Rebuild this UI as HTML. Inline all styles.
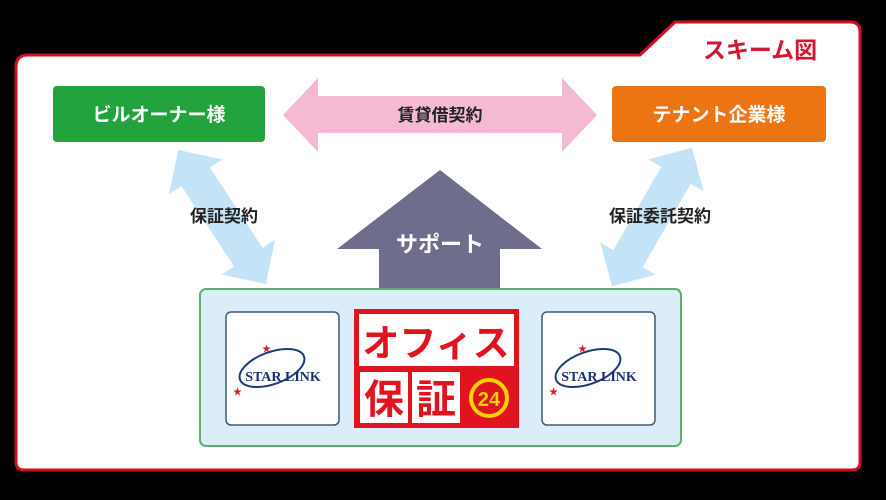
<!DOCTYPE html>
<html><head><meta charset="utf-8"><style>
html,body{margin:0;padding:0;background:#000;width:886px;height:500px;overflow:hidden}
svg{display:block}
text{font-family:"Liberation Sans","Noto Sans CJK JP",sans-serif;font-weight:bold}
text.serif{font-family:"Liberation Serif",serif}
</style></head><body>
<svg width="886" height="500" viewBox="0 0 886 500">
<rect width="886" height="500" fill="#000"/>
<path d="M28 55 L640 55 L675 22 L850 22 Q860 22 860 32 L860 462 Q860 470 852 470 L24 470 Q16 470 16 462 L16 67 Q16 55 28 55 Z" fill="#fff" stroke="#d0101e" stroke-width="3"/>
<text x="760" y="58" font-size="23" fill="#d01830" text-anchor="middle">スキーム図</text>
<rect x="53" y="86" width="212" height="56" rx="4" fill="#23a33e"/>
<text x="159" y="121" font-size="19" fill="#fff" text-anchor="middle">ビルオーナー様</text>
<rect x="612" y="86" width="214" height="56" rx="4" fill="#ec7412"/>
<text x="719" y="121" font-size="19" fill="#fff" text-anchor="middle">テナント企業様</text>
<polygon points="283,115 318,78 318,96 562,96 562,78 597,115 562,152 562,133 318,133 318,152" fill="#f4b9d3"/>
<text x="440" y="121" font-size="17" fill="#222" text-anchor="middle">賃貸借契約</text>
<g transform="translate(222,217) rotate(56.8)">
<polygon points="-80,0 -48,-32 -48,-17 48,-17 48,-32 80,0 48,32 48,17 -48,17 -48,32" fill="#c5e3f6"/>
</g>
<g transform="translate(652,217) rotate(120)">
<polygon points="-80,0 -48,-32 -48,-17 48,-17 48,-32 80,0 48,32 48,17 -48,17 -48,32" fill="#c5e3f6"/>
</g>
<text x="224" y="222" font-size="17" fill="#222" text-anchor="middle">保証契約</text>
<text x="660" y="222" font-size="17" fill="#222" text-anchor="middle">保証委託契約</text>
<polygon points="440,170 542,249 500,249 500,292 379,292 379,249 337,249" fill="#6e6d8c"/>
<text x="440" y="252" font-size="22" fill="#fff" text-anchor="middle">サポート</text>
<rect x="200" y="289" width="481" height="157" rx="6" fill="#dcedfa" stroke="#5eae74" stroke-width="2"/>
<g>
<rect x="226" y="312" width="113" height="113" rx="5" fill="#fff" stroke="#3f5a72" stroke-width="1.5"/>
<ellipse cx="272" cy="368" rx="34" ry="16" fill="none" stroke="#1a3c78" stroke-width="2" transform="rotate(-20 272 368)"/>
<text class="serif" x="283" y="381" font-size="14" fill="#1a3070" text-anchor="middle">STAR LINK</text>
<text x="262" y="352" font-size="9" fill="#d01c2c">★</text>
<text x="233" y="395" font-size="9" fill="#d01c2c">★</text>
</g>
<g>
<rect x="542" y="312" width="113" height="113" rx="5" fill="#fff" stroke="#3f5a72" stroke-width="1.5"/>
<ellipse cx="588" cy="368" rx="34" ry="16" fill="none" stroke="#1a3c78" stroke-width="2" transform="rotate(-20 588 368)"/>
<text class="serif" x="599" y="381" font-size="14" fill="#1a3070" text-anchor="middle">STAR LINK</text>
<text x="578" y="352" font-size="9" fill="#d01c2c">★</text>
<text x="549" y="395" font-size="9" fill="#d01c2c">★</text>
</g>
<rect x="354" y="309" width="165" height="119" fill="#e0141e"/>
<rect x="359" y="314" width="155" height="52" fill="#fff"/>
<text x="436" y="356" font-size="37" fill="#e0141e" text-anchor="middle">オフィス</text>
<rect x="360" y="372" width="48" height="51" fill="#fff"/>
<rect x="412" y="372" width="48" height="51" fill="#fff"/>
<text x="384" y="413" font-size="40" fill="#e0141e" text-anchor="middle">保</text>
<text x="436" y="413" font-size="40" fill="#e0141e" text-anchor="middle">証</text>
<circle cx="489" cy="398" r="18" fill="#e0141e" stroke="#f6d000" stroke-width="4"/>
<text x="489" y="406" font-size="20" fill="#f6d000" text-anchor="middle">24</text>
</svg>
</body></html>
